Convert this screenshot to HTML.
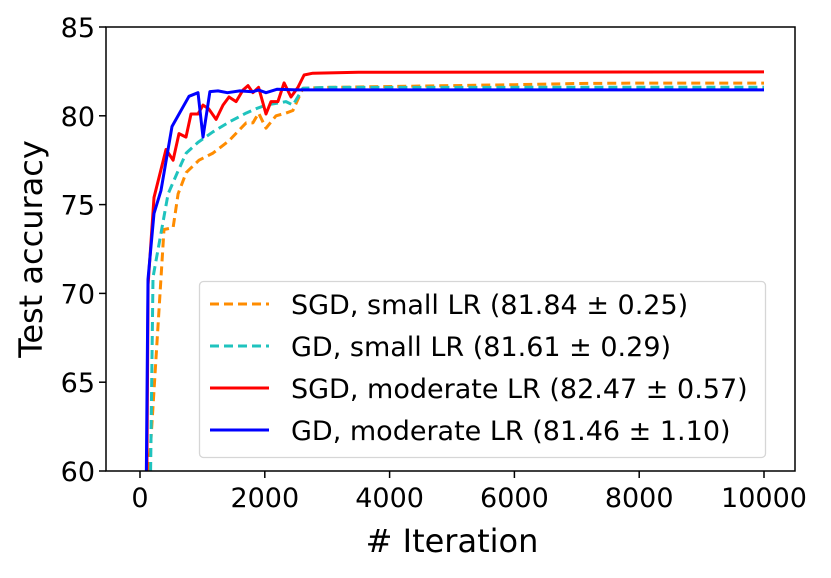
<!DOCTYPE html>
<html><head><meta charset="utf-8"><style>
body{margin:0;background:#fff}
svg text{font-family:"DejaVu Sans","Liberation Sans",sans-serif;fill:#000}
</style></head><body>
<svg id="chart" width="831" height="573">
<g id="plot"></g>
</svg>
<script>
const xTicks=[0,2000,4000,6000,8000,10000];
const yTicks=[60,65,70,75,80,85];
const sgdSmallX=[144,385,530,610,740,945,1170,1426,1700,1810,1900,2020,2180,2340,2450,2610,3000,4000,5000,6000,7000,8000,10000];
const sgdSmallY=[60,73.6,73.7,75.6,76.8,77.5,77.9,78.6,79.6,79.6,80.15,79.3,80.0,80.15,80.3,81.55,81.6,81.65,81.7,81.75,81.82,81.84,81.84];
const gdSmallX=[170,208,450,610,740,930,1170,1430,1700,1860,2020,2180,2340,2450,2610,3000,10000];
const gdSmallY=[60,70.9,75.6,76.9,77.9,78.5,79.1,79.65,80.15,80.4,80.6,80.7,80.8,80.6,81.55,81.6,81.61];
const sgdModX=[110,130,224,417,530,625,737,817,930,1010,1100,1220,1330,1426,1540,1650,1730,1810,1900,2020,2100,2210,2310,2420,2530,2630,2770,3500,10000];
const sgdModY=[60,70.5,75.4,78.1,77.5,79.0,78.8,80.1,80.1,80.6,80.4,79.8,80.6,81.06,80.8,81.45,81.7,81.3,81.6,80.1,80.8,80.8,81.85,81.06,81.6,82.3,82.4,82.45,82.47];
const gdModX=[100,128,224,336,513,785,930,1010,1120,1250,1400,1600,1800,1900,2020,2200,2500,10000];
const gdModY=[59,70.8,74.5,75.8,79.4,81.1,81.3,78.8,81.36,81.4,81.3,81.4,81.35,81.45,81.3,81.5,81.46,81.46];
const series=[
 {name:'sgd-small-lr',x:sgdSmallX,y:sgdSmallY,c:'#ff8c00',dash:'9,5',label:'SGD, small LR (81.84 ± 0.25)'},
 {name:'gd-small-lr',x:gdSmallX,y:gdSmallY,c:'#1fc3be',dash:'9,5',label:'GD, small LR (81.61 ± 0.29)'},
 {name:'sgd-moderate-lr',x:sgdModX,y:sgdModY,c:'#ff0000',dash:null,label:'SGD, moderate LR (82.47 ± 0.57)'},
 {name:'gd-moderate-lr',x:gdModX,y:gdModY,c:'#0000ff',dash:null,label:'GD, moderate LR (81.46 ± 1.10)'}];
const L=106,R=795,T=27,B=471;
const sx=v=>140+v*0.0624, sy=v=>B-(v-60)*(B-T)/25;
const NS='http://www.w3.org/2000/svg';
const svg=document.getElementById('chart');
function mk(t,a,p){const e=document.createElementNS(NS,t);for(const k in a)e.setAttribute(k,a[k]);(p||svg).appendChild(e);return e;}
const defs=mk('defs',{});const cp=mk('clipPath',{id:'clip'},defs);mk('rect',{x:L,y:T,width:R-L,height:B-T},cp);
const g=mk('g',{'clip-path':'url(#clip)'});


series.forEach(s=>{
 const d=s.x.map((v,i)=>(i?'L':'M')+sx(v).toFixed(1)+','+sy(s.y[i]).toFixed(1)).join(' ');
 const p=mk('path',{d:d,fill:'none',stroke:s.c,'stroke-width':3,'stroke-linejoin':'round'},g);
 if(s.dash)p.setAttribute('stroke-dasharray',s.dash);
 
 
});
const fr=mk('rect',{x:L,y:T,width:R-L,height:B-T,fill:'none',stroke:'#000','stroke-width':1.5});


xTicks.forEach(v=>{
 mk('line',{x1:sx(v),x2:sx(v),y1:B,y2:B+7,stroke:'#000','stroke-width':1.5});
 const t=mk('text',{x:sx(v),y:B+36,'text-anchor':'middle','font-size':27});t.textContent=v;
 
 
});
yTicks.forEach(v=>{
 mk('line',{x1:L-7,x2:L,y1:sy(v),y2:sy(v),stroke:'#000','stroke-width':1.5});
 const t=mk('text',{x:L-11,y:sy(v)+10,'text-anchor':'end','font-size':27});t.textContent=v;
 
 
});
const xl=mk('text',{x:452,y:552,'text-anchor':'middle','font-size':32});xl.textContent='# Iteration';


const yl=mk('text',{x:0,y:0,'text-anchor':'middle','font-size':32,transform:'translate(42,249) rotate(-90)'});yl.textContent='Test accuracy';


const lg=mk('g',{});


mk('rect',{x:199.5,y:281.5,width:566,height:176,rx:4,fill:'#fff','fill-opacity':0.8,stroke:'#d6d6d6','stroke-width':1.3},lg);
series.forEach((s,i)=>{
 const y=304+i*42;
 const ln=mk('line',{x1:210,x2:269,y1:y,y2:y,stroke:s.c,'stroke-width':3},lg);
 if(s.dash)ln.setAttribute('stroke-dasharray','9,5');
 const t=mk('text',{x:291,y:y+10,'font-size':27},lg);t.textContent=s.label;
 
 
});
</script>
</body></html>
